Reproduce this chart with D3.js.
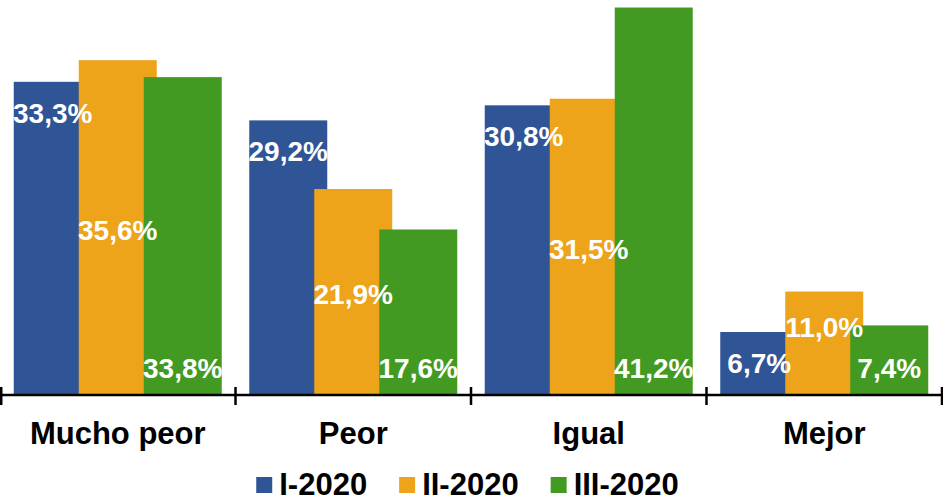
<!DOCTYPE html>
<html>
<head>
<meta charset="utf-8">
<script src="https://cdn.jsdelivr.net/npm/d3@7"></script>
<style>
  html, body { margin: 0; padding: 0; background: #ffffff; }
  svg { display: block; }
  text { font-family: "Liberation Sans", Arial, sans-serif; font-weight: bold; }
</style>
</head>
<body>
<svg id="chart" width="943" height="502"></svg>
<script>
// ---- data ----
const categories = ["Mucho peor", "Peor", "Igual", "Mejor"];
const seriesNames = ["I-2020", "II-2020", "III-2020"];
const seriesI   = [33.3, 29.2, 30.8, 6.7];
const seriesII  = [35.6, 21.9, 31.5, 11.0];
const seriesIII = [33.8, 17.6, 41.2, 7.4];
const yMax = 42;

// ---- styling ----
const colors = ["#2F5597", "#EDA31A", "#439A22"];
const labelMode = ["end", "center", "base"];

const svg = d3.select("#chart");
const W = 943, H = 502;
const axisY = 395;

const x = d3.scaleBand().domain(categories).range([0, 942]).paddingInner(0).paddingOuter(0);
const y = d3.scaleLinear().domain([0, yMax]).range([axisY, 0]);

const barW = 78, step = 65;
const groupW = barW + step * (seriesNames.length - 1);
const offset = (x.bandwidth() - groupW) / 2;

const allSeries = [seriesI, seriesII, seriesIII];
const bars = [];
allSeries.forEach((vals, s) => {
  vals.forEach((v, i) => {
    bars.push({ s, cat: categories[i], v, x0: x(categories[i]) + offset + s * step });
  });
});

// bars (drawn in series order so later series overlap earlier)
svg.append("g").selectAll("rect").data(bars).join("rect")
  .attr("x", d => d.x0)
  .attr("y", d => y(d.v))
  .attr("width", barW)
  .attr("height", d => y(0) - y(d.v))
  .attr("fill", d => colors[d.s]);

// axis
const axis = d3.axisBottom(x).tickSize(0).tickFormat("");
const gAxis = svg.append("g").attr("transform", `translate(0,${axisY})`).call(axis);
gAxis.select(".domain").attr("stroke", "#000").attr("stroke-width", 2.5).attr("d", `M0,0H${W}`);
const tickPos = categories.map(c => x(c)).concat([x.range()[1]]);
svg.append("g").selectAll("line").data(tickPos).join("line")
  .attr("x1", d => Math.max(d, 1.25)).attr("x2", d => Math.max(d, 1.25))
  .attr("y1", axisY - 8).attr("y2", axisY + 10)
  .attr("stroke", "#000").attr("stroke-width", 2.5);

// category labels
svg.append("g").selectAll("text").data(categories).join("text")
  .attr("x", d => x(d) + x.bandwidth() / 2)
  .attr("y", 444)
  .attr("text-anchor", "middle")
  .attr("font-size", 31)
  .attr("fill", "#000")
  .text(d => d);

// value labels
const fmt = v => v.toFixed(1).replace(".", ",") + "%";
bars.forEach(d => {
  const top = y(d.v), cx = d.x0 + barW / 2;
  if (labelMode[d.s] === "end") d.ly = top + 41;
  else if (labelMode[d.s] === "base") d.ly = axisY - 17;
  else d.ly = (top + axisY) / 2 + 12;
  d.cx = cx;
});
// simple collision avoidance for centered labels
bars.filter(d => labelMode[d.s] === "center").forEach(d => {
  bars.filter(o => o !== d && o.cat === d.cat && labelMode[o.s] === "end").forEach(o => {
    if (Math.abs(o.ly - d.ly) < 26) d.ly = o.ly - 36;
  });
});
svg.append("g").selectAll("text").data(bars).join("text")
  .attr("x", d => d.cx)
  .attr("y", d => d.ly)
  .attr("text-anchor", "middle")
  .attr("font-size", 28)
  .attr("fill", "#ffffff")
  .text(d => fmt(d.v));

// legend
const legend = svg.append("g");
let lx = 0;
const items = [];
seriesNames.forEach((n, i) => {
  const g = legend.append("g");
  g.append("rect").attr("x", 0).attr("y", -18).attr("width", 16).attr("height", 16).attr("fill", colors[i]);
  const t = g.append("text").attr("x", 23).attr("y", 0).attr("font-size", 31).attr("fill", "#000").text(n);
  const w = 23 + t.node().getComputedTextLength();
  g.attr("transform", `translate(${lx},0)`);
  lx += w + 32;
});
const legendW = lx - 32;
legend.attr("transform", `translate(${(W - legendW) / 2 - 4},495)`);
</script>
</body>
</html>
